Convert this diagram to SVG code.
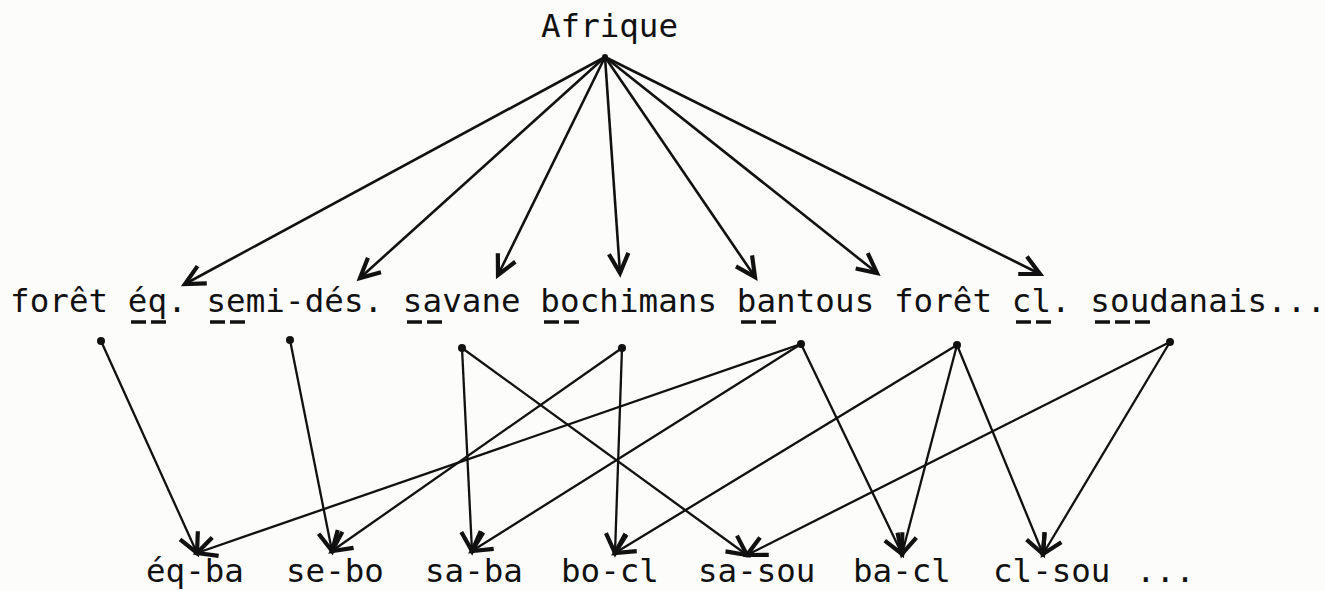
<svg xmlns="http://www.w3.org/2000/svg" width="1325" height="591" viewBox="0 0 1325 591">
<style>
text{font-family:"DejaVu Sans Mono","Liberation Mono",monospace;font-size:32.5px;fill:#111}
.e{stroke:#111;stroke-width:2.3;fill:none;marker-end:url(#ah)}
.t{stroke-width:2.6}
.d{fill:#111}
.u{stroke:#111;stroke-width:3.5}
</style>
<defs>
<marker id="ah" markerUnits="userSpaceOnUse" markerWidth="30" markerHeight="30" viewBox="-16 -10 20 20" refX="0" refY="0" orient="auto">
<path d="M-13,-6.5 L0,0 L-13,6.5" fill="none" stroke="#111" stroke-width="2.8"/>
</marker>
</defs>
<rect width="1325" height="591" fill="#fcfcfb"/>
<g id="afrique"><text x="541" y="37">Afrique</text></g>
<g id="level1">
<text x="10" y="312" textLength="1316" lengthAdjust="spacing">forêt éq. semi-dés. savane bochimans bantous forêt cl. soudanais...</text>
<g class="u">
<line x1="131" y1="322" x2="146" y2="322"/><line x1="151" y1="322" x2="166" y2="322"/>
<line x1="210" y1="322" x2="225" y2="322"/><line x1="230" y1="322" x2="245" y2="322"/>
<line x1="407" y1="322" x2="422" y2="322"/><line x1="427" y1="322" x2="442" y2="322"/>
<line x1="544" y1="322" x2="559" y2="322"/><line x1="564" y1="322" x2="579" y2="322"/>
<line x1="741" y1="322" x2="756" y2="322"/><line x1="761" y1="322" x2="776" y2="322"/>
<line x1="1016" y1="322" x2="1031" y2="322"/><line x1="1036" y1="322" x2="1051" y2="322"/>
<line x1="1095" y1="322" x2="1110" y2="322"/><line x1="1115" y1="322" x2="1130" y2="322"/><line x1="1135" y1="322" x2="1150" y2="322"/>
</g>
</g>
<g id="sources" class="d">
<circle cx="605" cy="57" r="3"/>
<circle cx="101" cy="341" r="4"/>
<circle cx="290" cy="340" r="4"/>
<circle cx="462" cy="348" r="4"/>
<circle cx="622" cy="348" r="4"/>
<circle cx="801" cy="344" r="4"/>
<circle cx="957" cy="345" r="4"/>
<circle cx="1170" cy="342" r="4"/>
</g>
<g id="level2">
<text x="146" y="582">éq-ba</text>
<text x="286" y="582">se-bo</text>
<text x="425" y="582">sa-ba</text>
<text x="561" y="582">bo-cl</text>
<text x="698" y="582">sa-sou</text>
<text x="853" y="582">ba-cl</text>
<text x="993" y="582">cl-sou</text>
<text x="1136" y="582">...</text>
</g>
<g id="connectors">
<g class="e t">
<line x1="605" y1="57" x2="185" y2="284"/>
<line x1="605" y1="57" x2="360" y2="278"/>
<line x1="605" y1="57" x2="498" y2="275"/>
<line x1="605" y1="57" x2="620" y2="273"/>
<line x1="605" y1="57" x2="755" y2="277"/>
<line x1="605" y1="57" x2="877" y2="273"/>
<line x1="605" y1="57" x2="1040" y2="274"/>
</g>
<g class="e">
<line x1="101" y1="341" x2="197" y2="553"/>
<line x1="290" y1="340" x2="332" y2="551"/>
<line x1="462" y1="348" x2="472" y2="551"/>
<line x1="462" y1="348" x2="747" y2="555"/>
<line x1="622" y1="348" x2="332" y2="551"/>
<line x1="622" y1="348" x2="615" y2="553"/>
<line x1="801" y1="344" x2="197" y2="553"/>
<line x1="801" y1="344" x2="472" y2="551"/>
<line x1="801" y1="344" x2="902" y2="554"/>
<line x1="957" y1="345" x2="615" y2="553"/>
<line x1="957" y1="345" x2="902" y2="554"/>
<line x1="957" y1="345" x2="1043" y2="554"/>
<line x1="1170" y1="342" x2="747" y2="555"/>
<line x1="1170" y1="342" x2="1043" y2="554"/>
</g>
<g class="d">
<circle cx="197" cy="553" r="2.5"/><circle cx="332" cy="551" r="2.5"/><circle cx="472" cy="551" r="2.5"/>
<circle cx="615" cy="553" r="2.5"/><circle cx="747" cy="555" r="2.5"/><circle cx="902" cy="554" r="2.5"/><circle cx="1043" cy="554" r="2.5"/>
</g>
</g>
</svg>
